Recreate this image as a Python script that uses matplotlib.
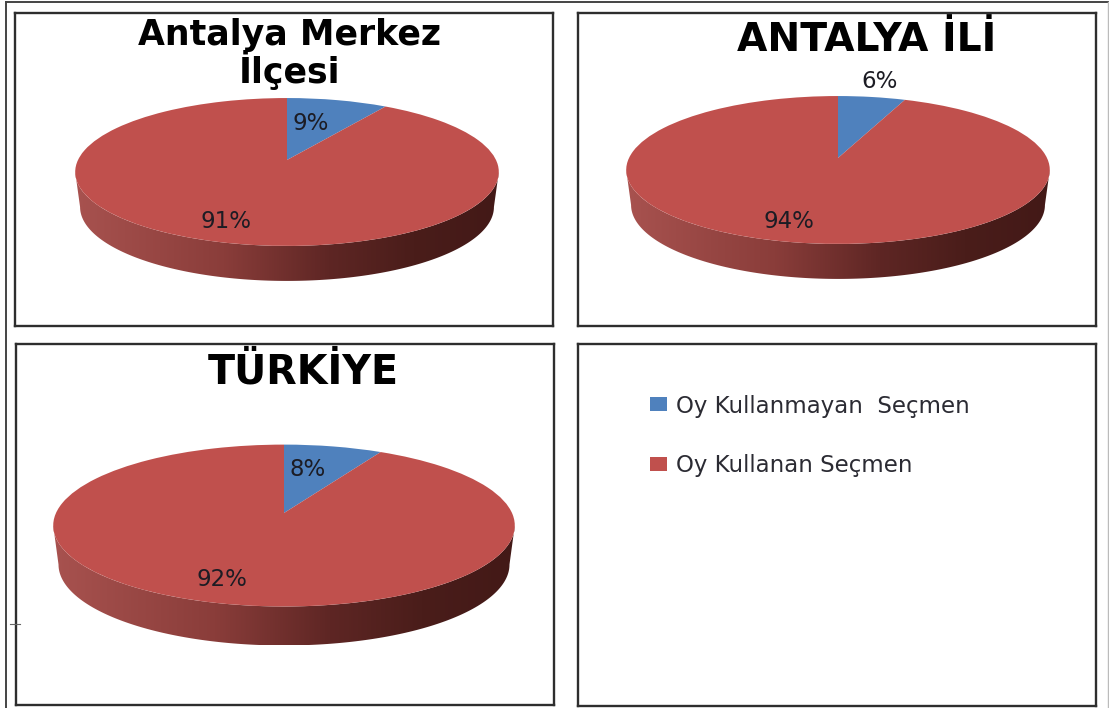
import numpy as np
import matplotlib
matplotlib.use("Agg")
import matplotlib.pyplot as plt
from matplotlib.colors import LinearSegmentedColormap
from matplotlib.lines import Line2D
from matplotlib.patches import Patch, Polygon
from matplotlib.transforms import Transform

W, H = 1109, 708

titles = ["Antalya Merkez\nİlçesi", "ANTALYA İLİ", "TÜRKİYE"]
not_voted = [9, 6, 8]
voted = [91, 94, 92]
legend_labels = ["Oy Kullanmayan  Seçmen", "Oy Kullanan Seçmen"]

BLUE = "#4f81bd"
RED = "#c0504d"
side_cmap = LinearSegmentedColormap.from_list(
    "side", [(0, "#a8524f"), (0.35, "#8a3d3a"), (0.6, "#5e2624"), (0.8, "#4a1d1a"), (1, "#431917")])


# excel's 3d pie is a flat circle seen in perspective, so the apex sits above the ellipse middle
class Perspective(Transform):
    input_dims = 2
    output_dims = 2
    is_separable = False
    has_inverse = False

    def __init__(self, a, b, k):
        super().__init__()
        self.a, self.b, self.k = a, b, k

    def transform_non_affine(self, values):
        values = np.asarray(values)
        w = 1 + self.k * values[:, 1]
        return np.column_stack((self.a * values[:, 0] / w, self.b * values[:, 1] / w))


def panel_axes(x0, y0, x1, y1):
    return fig.add_axes([x0 / W, 1 - y1 / H, (x1 - x0) / W, (y1 - y0) / H])


def style_frame(ax):
    ax.set_frame_on(True)
    ax.set_xticks([])
    ax.set_yticks([])
    for s in ax.spines.values():
        s.set_color("#2e2e2e")
        s.set_linewidth(1.7)


def draw_pie(box, apex, a, b, k, depth, values):
    ax = panel_axes(*box)
    persp = Perspective(a, b, k)

    # side wall first, gradient clipped to the front rim band
    # start at the widest point of the ellipse so the wall has no notch at the ends
    t0 = np.arcsin(k)
    t = np.linspace(np.pi + t0, 2 * np.pi - t0, 200)
    rim = persp.transform_non_affine(np.column_stack((np.cos(t), np.sin(t))))
    low = rim[::-1] * [0.977, 1.0] - [0, depth]
    band = Polygon(np.vstack((rim, low)), closed=True, facecolor="none", edgecolor="none")
    ax.add_patch(band)
    grad = np.linspace(0, 1, 256).reshape(1, -1)
    xmax = rim[:, 0].max()
    img = ax.imshow(grad, cmap=side_cmap, aspect="auto", extent=(-xmax, xmax, low[:, 1].min(), rim[:, 1].max()), zorder=1)
    img.set_clip_path(band)

    wedges, _ = ax.pie(values, colors=[BLUE, RED], startangle=90, counterclock=False, radius=1, wedgeprops={"linewidth": 0})
    for wedge in wedges:
        wedge.set_transform(persp + ax.transData)
        wedge.set_zorder(2)

    ax.set_aspect("auto")
    ax.set_xlim(box[0] - apex[0], box[2] - apex[0])
    ax.set_ylim(apex[1] - box[3], apex[1] - box[1])
    style_frame(ax)
    return ax


def px_text(ax, apex, x, y, s, **kw):
    ax.text(x - apex[0], apex[1] - y, s, ha="center", va="center", zorder=3, **kw)


fig = plt.figure(figsize=(W / 100, H / 100), dpi=100, facecolor="white")

# outer page border
fig.add_artist(Line2D([6 / W, 6 / W], [0, 1 - 2 / H], color="#444444", lw=1.4))
fig.add_artist(Line2D([6 / W, 1], [1 - 2 / H, 1 - 2 / H], color="#444444", lw=1.4))
fig.add_artist(Line2D([1107.5 / W, 1107.5 / W], [0, 1 - 2 / H], color="#bbbbbb", lw=1.0))
fig.add_artist(Line2D([10 / W, 20 / W], [1 - 624 / H, 1 - 624 / H], color="#666666", lw=0.8))

label_style = {"fontsize": 16.5, "color": "#1c1c24"}

apex1 = (287, 160)
ax1 = draw_pie((15, 13, 553, 326), apex1, 209, 72, 0.162, 35, [not_voted[0], voted[0]])
px_text(ax1, apex1, 290, 54, titles[0], fontsize=25, fontweight="bold", color="black", linespacing=0.95)
px_text(ax1, apex1, 311, 123, f"{not_voted[0]}%", **label_style)
px_text(ax1, apex1, 226, 221, f"{voted[0]}%", **label_style)

apex2 = (838, 158)
ax2 = draw_pie((578, 13, 1096, 326), apex2, 209, 72, 0.162, 35, [not_voted[1], voted[1]])
px_text(ax2, apex2, 867, 40, titles[1], fontsize=28.3, fontweight="bold", color="black")
px_text(ax2, apex2, 880, 81, f"{not_voted[1]}%", **label_style)
px_text(ax2, apex2, 789, 221, f"{voted[1]}%", **label_style)

apex3 = (284, 513)
ax3 = draw_pie((16, 344, 554, 705), apex3, 228, 79, 0.155, 39, [not_voted[2], voted[2]])
px_text(ax3, apex3, 303, 373, titles[2], fontsize=28.5, fontweight="bold", color="black")
px_text(ax3, apex3, 308, 469, f"{not_voted[2]}%", **label_style)
px_text(ax3, apex3, 222, 579, f"{voted[2]}%", **label_style)

ax4 = panel_axes(578, 344, 1096, 706)
style_frame(ax4)
handles = [Patch(facecolor=BLUE), Patch(facecolor=RED)]
ax4.legend(handles, legend_labels, loc="upper left", bbox_to_anchor=(72 / 518, 1 - 50.5 / 362), borderaxespad=0,
           frameon=False, fontsize=16.5, labelspacing=1.6, handlelength=0.74, handleheight=0.55, handletextpad=0.4,
           labelcolor="#2b2b33", borderpad=0)

fig.savefig("out.png", dpi=100)
